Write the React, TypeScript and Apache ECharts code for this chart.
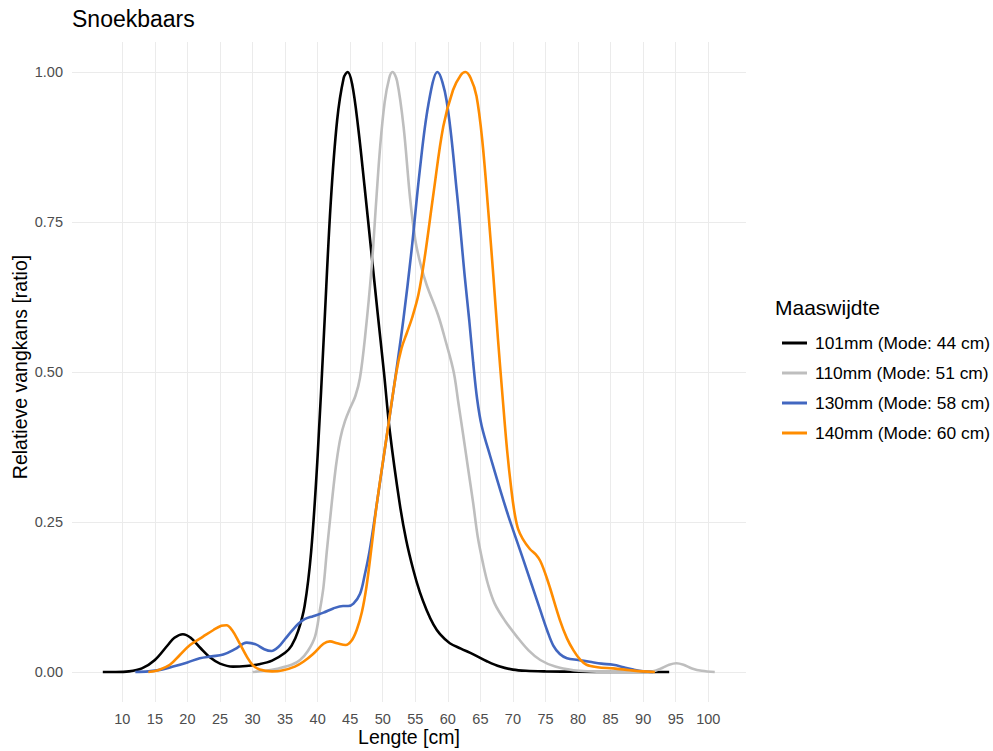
import React, { useEffect, useRef } from "react";
import * as echarts from "echarts";

const seriesNames = [
  "101mm (Mode: 44 cm)",
  "110mm (Mode: 51 cm)",
  "130mm (Mode: 58 cm)",
  "140mm (Mode: 60 cm)",
];
const seriesColors = ["#000000", "#bebebe", "#4267c0", "#ff8c00"];

const xTicks = [10, 15, 20, 25, 30, 35, 40, 45, 50, 55, 60, 65, 70, 75, 80, 85, 90, 95, 100];
const yTicks = [0, 0.25, 0.5, 0.75, 1.0];

const mesh101: number[][] = [
  [7, 0], [9, 0], [11, 0.001], [13, 0.006], [15, 0.02], [17, 0.045], [18, 0.057], [19.3, 0.063],
  [20.5, 0.057], [22, 0.04], [23.5, 0.024], [25, 0.014], [27, 0.009], [29, 0.01], [31, 0.013],
  [33, 0.019], [35, 0.032], [36, 0.044], [37, 0.068], [38, 0.11], [39, 0.2], [40, 0.36], [41, 0.57],
  [42, 0.78], [43, 0.92], [44, 0.99], [44.6, 1.0], [45.3, 0.98], [46.2, 0.91], [47.2, 0.81],
  [48.2, 0.705], [49.2, 0.6], [50.2, 0.498], [51.1, 0.4], [52.6, 0.281], [53.6, 0.22],
  [54.7, 0.17], [55.7, 0.133], [56.75, 0.103], [57.8, 0.079], [58.8, 0.063], [60.3, 0.048],
  [62, 0.039], [64, 0.029], [66, 0.018], [68, 0.009], [70, 0.004], [72, 0.002], [75, 0.001],
  [80, 0.0003], [85, 0], [90, 0], [94, 0],
];

const mesh110: number[][] = [
  [30, 0], [32, 0.002], [34, 0.006], [36, 0.012], [37.3, 0.02], [38.5, 0.035], [39.6, 0.059],
  [40.3, 0.1], [40.9, 0.142], [41.4, 0.2], [41.9, 0.253], [42.4, 0.305], [42.9, 0.35],
  [43.5, 0.39], [44.2, 0.418], [45, 0.44], [45.8, 0.46], [46.5, 0.49], [47.3, 0.56],
  [48.3, 0.675], [49, 0.785], [49.6, 0.875], [50.3, 0.95], [51, 0.99], [51.5, 1.0], [52.2, 0.985],
  [53.2, 0.909], [54.2, 0.79], [55, 0.72], [55.8, 0.68], [56.75, 0.645], [58.5, 0.595],
  [59.7, 0.55], [60.9, 0.5], [61.6, 0.45], [62.4, 0.392], [63.1, 0.34], [63.9, 0.281],
  [64.6, 0.225], [65.4, 0.181], [66.2, 0.145], [67.2, 0.114], [68.8, 0.085], [70.6, 0.059],
  [72.4, 0.036], [74.2, 0.02], [76.5, 0.009], [79.3, 0.003], [82, 0.001], [85, 0], [88, 0],
  [90, 0], [91.5, 0.001], [93, 0.007], [94, 0.012], [95.1, 0.0145], [96.2, 0.012],
  [97.5, 0.006], [99, 0.002], [101, 0],
];

const mesh130: number[][] = [
  [12, 0], [14, 0.001], [16, 0.004], [17.8, 0.009], [20, 0.016], [21.9, 0.023], [23.7, 0.026],
  [25.5, 0.029], [27.3, 0.038], [29.1, 0.049], [30.5, 0.046], [31.8, 0.038], [32.9, 0.035],
  [34, 0.042], [35, 0.055], [36, 0.068], [37, 0.08], [38, 0.088], [39.3, 0.093],
  [40.9, 0.099], [42.4, 0.106], [43.9, 0.11], [44.7, 0.11], [45.5, 0.114], [46.5, 0.13],
  [47.2, 0.16], [48, 0.203], [49.1, 0.281], [50.6, 0.392], [52.1, 0.503], [53.2, 0.59],
  [54.4, 0.7], [55.7, 0.837], [57, 0.945], [58.4, 1.0], [59.8, 0.953], [61.4, 0.798],
  [62.6, 0.659], [63.3, 0.585], [63.9, 0.515], [64.5, 0.455], [65.2, 0.41], [66.5, 0.36],
  [69, 0.27], [71.6, 0.187], [74.2, 0.103], [75.3, 0.068], [76.2, 0.044], [77.2, 0.03],
  [78.3, 0.023], [80, 0.02], [81.8, 0.017], [83.6, 0.014], [85.4, 0.012], [87, 0.008],
  [88.5, 0.004], [90, 0.001], [91.5, 0],
];

const mesh140: number[][] = [
  [14, 0], [15.5, 0.003], [17.3, 0.012], [18.8, 0.028], [20.4, 0.045], [22.4, 0.059],
  [24, 0.07], [25.2, 0.077], [26, 0.078], [26.9, 0.069], [28, 0.048], [29.1, 0.026],
  [30, 0.012], [31.1, 0.004], [33, 0.001], [34.7, 0.003], [36.5, 0.009], [37.8, 0.017],
  [39.3, 0.03], [40.9, 0.047], [41.9, 0.051], [43, 0.048], [44.3, 0.045], [45.2, 0.052],
  [46, 0.07], [46.8, 0.1], [47.5, 0.142], [48.3, 0.21], [49.1, 0.281], [50.6, 0.392],
  [52.1, 0.5], [52.9, 0.54], [53.7, 0.565], [54.5, 0.59], [55.5, 0.63], [56.5, 0.695],
  [57.8, 0.798], [59.3, 0.909], [60.8, 0.97], [62, 0.995], [62.7, 1.0], [63.5, 0.99],
  [64.4, 0.96], [65.3, 0.885], [66.2, 0.77], [67, 0.659], [67.7, 0.555], [68.4, 0.46],
  [69.1, 0.37], [69.8, 0.3], [70.3, 0.262], [70.8, 0.238], [71.5, 0.222], [72.6, 0.205],
  [73.5, 0.196], [74.2, 0.185], [75, 0.163], [75.7, 0.14], [77.2, 0.087], [78.3, 0.056],
  [79.3, 0.036], [80.3, 0.021], [81.3, 0.012], [83, 0.008], [85.4, 0.006], [88, 0.003],
  [90, 0.001], [91.8, 0],
];

const allData = [mesh101, mesh110, mesh130, mesh140];

const FONT = "Liberation Sans, Arial, Helvetica, sans-serif";

export default function App() {
  const ref = useRef<HTMLDivElement>(null);
  useEffect(() => {
    if (!ref.current) return;
    const chart = echarts.init(ref.current, undefined, { renderer: "svg" });
    chart.setOption({
      animation: false,
      backgroundColor: "#ffffff",
      textStyle: { fontFamily: FONT },
      title: [
        {
          text: "Snoekbaars",
          left: 72,
          top: 7,
          padding: 0,
          textStyle: { fontFamily: FONT, fontSize: 23, fontWeight: "normal", color: "#000" },
        },
        {
          text: "Maaswijdte",
          left: 775,
          top: 297,
          padding: 0,
          textStyle: { fontFamily: FONT, fontSize: 21, fontWeight: "normal", color: "#000" },
        },
      ],
      legend: {
        orient: "vertical",
        left: 777,
        top: 328,
        itemWidth: 25,
        itemHeight: 3,
        itemGap: 10,
        icon: "rect",
        data: seriesNames,
        textStyle: {
          fontFamily: FONT,
          fontSize: 17.4,
          color: "#000",
          lineHeight: 20,
          padding: [0, 0, 0, 3],
        },
      },
      grid: {
        left: 72,
        right: 247,
        top: 42,
        bottom: 49,
        containLabel: false,
        outerBoundsMode: "none",
      },
      xAxis: {
        type: "value",
        min: 2.27,
        max: 105.8,
        name: "Lengte [cm]",
        nameLocation: "middle",
        nameGap: 25,
        nameMoveOverlap: false,
        nameTextStyle: { fontFamily: FONT, fontSize: 19.5, color: "#000" },
        axisLine: { show: false },
        axisTick: { show: false, customValues: xTicks },
        axisLabel: {
          customValues: xTicks,
          fontFamily: FONT,
          fontSize: 14.5,
          color: "#4d4d4d",
          margin: 9,
        },
        splitLine: { show: true, lineStyle: { color: "#ebebeb", width: 1 } },
      },
      yAxis: {
        type: "value",
        min: -0.05,
        max: 1.05,
        name: "Relatieve vangkans [ratio]",
        nameLocation: "middle",
        nameGap: 42,
        nameMoveOverlap: false,
        nameTextStyle: {
          fontFamily: FONT,
          fontSize: 19.5,
          color: "#000",
          padding: [0, 0, 0, 10],
        },
        axisLine: { show: false },
        axisTick: { show: false, customValues: yTicks },
        axisLabel: {
          customValues: yTicks,
          fontFamily: FONT,
          fontSize: 14.5,
          color: "#4d4d4d",
          margin: 9,
          formatter: (v: number) => v.toFixed(2),
        },
        splitLine: { show: true, lineStyle: { color: "#ebebeb", width: 1 } },
      },
      series: allData.map((d, i) => ({
        name: seriesNames[i],
        type: "line",
        data: d,
        smooth: 0.35,
        showSymbol: false,
        symbol: "none",
        color: seriesColors[i],
        lineStyle: { color: seriesColors[i], width: 2.6 },
        z: 2 + i,
      })),
    });
    return () => chart.dispose();
  }, []);
  return (
    <div
      ref={ref}
      style={{ position: "fixed", left: 0, top: 0, width: "993px", height: "751px" }}
    />
  );
}
